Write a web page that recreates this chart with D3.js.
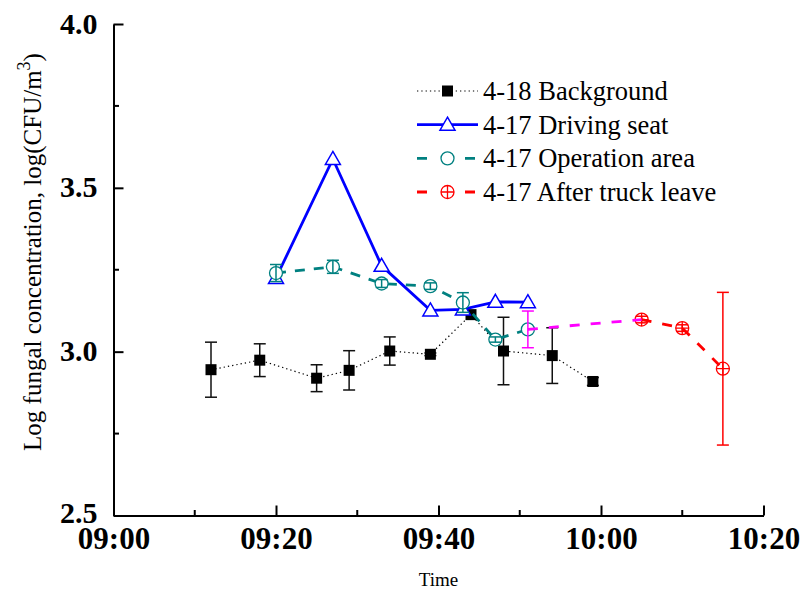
<!DOCTYPE html>
<html>
<head>
<meta charset="utf-8">
<script src="https://cdn.jsdelivr.net/npm/d3@7"></script>
<style>
  html, body { margin: 0; padding: 0; background: #fff; }
  svg { display: block; }
</style>
</head>
<body>
<svg id="chart" width="800" height="598"></svg>
<script>
// Sampling times and log10 fungal concentrations (CFU/m3) with standard deviations
const bgTimes   = ["09:12", "09:18", "09:25", "09:29", "09:34", "09:39", "09:44", "09:48", "09:54", "09:59"];
const bgValues  = [2.945, 2.974, 2.919, 2.943, 3.002, 2.992, 3.113, 3.002, 2.988, 2.909];
const bgErrors  = [0.084, 0.050, 0.041, 0.060, 0.043, 0.004, 0.0, 0.103, 0.085, 0.012];

const driveTimes  = ["09:20", "09:27", "09:33", "09:39", "09:43", "09:47", "09:51"];
const driveValues = [3.225, 3.588, 3.262, 3.126, 3.129, 3.152, 3.151];
const driveErrors = [0.006, 0.0, 0.0, 0.0, 0.0, 0.0, 0.0];

const opTimes  = ["09:20", "09:27", "09:33", "09:39", "09:43", "09:47", "09:51"];
const opValues = [3.240, 3.259, 3.208, 3.200, 3.150, 3.037, 3.068];
const opErrors = [0.026, 0.020, 0.012, 0.010, 0.030, 0.008, 0.056];

const afterTimes  = ["10:05", "10:10", "10:15"];
const afterValues = [3.098, 3.072, 2.948];
const afterErrors = [0.010, 0.010, 0.233];

const xTickLabels = ["09:00", "09:20", "09:40", "10:00", "10:20"];
const yTickLabels = ["2.5", "3.0", "3.5", "4.0"];

const legendLabels = ["4-18 Background", "4-17 Driving seat", "4-17 Operation area", "4-17 After truck leave"];

const parseT = d3.timeParse("%H:%M");
const fmtT = d3.timeFormat("%H:%M");

const svg = d3.select("#chart");
const margin = { left: 113.5, right: 763.5, top: 24, bottom: 515.5 };

const x = d3.scaleTime()
  .domain([parseT("09:00"), parseT("10:20")])
  .range([margin.left, margin.right]);
const y = d3.scaleLinear()
  .domain([2.5, 4.0])
  .range([margin.bottom, margin.top]);

const serif = "'Liberation Serif', 'Times New Roman', serif";

function rows(times, values, errors) {
  return times.map((t, i) => ({ t: parseT(t), v: values[i], e: errors[i] }));
}
const bg = rows(bgTimes, bgValues, bgErrors);
const drive = rows(driveTimes, driveValues, driveErrors);
const op = rows(opTimes, opValues, opErrors);
const after = rows(afterTimes, afterValues, afterErrors);
// dashed connector between the last operation-area sample and the first after-leave sample
const link = [op[op.length - 1], after[0]];

// ---------- axes ----------
const majorX = xTickLabels.map(parseT);
const minorX = ["09:10", "09:30", "09:50", "10:10"].map(parseT);
const axisG = svg.append("g");

const xAxis = d3.axisBottom(x).tickValues(majorX).tickFormat(fmtT).tickSizeInner(-10).tickSizeOuter(0).tickPadding(16);
const gx = axisG.append("g").attr("transform", `translate(0,${margin.bottom})`).call(xAxis);
gx.select(".domain").attr("stroke", "#000").attr("stroke-width", 2);
gx.selectAll(".tick line").attr("stroke", "#000").attr("stroke-width", 2);
gx.selectAll(".tick text")
  .attr("font-family", serif).attr("font-weight", "bold").attr("font-size", 31)
  .attr("fill", "#000").attr("dy", "0.58em");
gx.selectAll(".minor").data(minorX).enter().append("line")
  .attr("x1", d => x(d)).attr("x2", d => x(d)).attr("y1", 0).attr("y2", -5.5)
  .attr("stroke", "#000").attr("stroke-width", 2);

const yAxis = d3.axisLeft(y).tickValues(yTickLabels.map(Number)).tickFormat(d3.format(".1f"))
  .tickSizeInner(-10).tickSizeOuter(0).tickPadding(16);
const gy = axisG.append("g").attr("transform", `translate(${margin.left},0)`).call(yAxis);
gy.select(".domain").attr("stroke", "#000").attr("stroke-width", 2);
gy.selectAll(".tick line").attr("stroke", "#000").attr("stroke-width", 2);
gy.selectAll(".tick text")
  .attr("font-family", serif).attr("font-weight", "bold").attr("font-size", 30)
  .attr("fill", "#000").attr("dy", d => d === 2.5 ? "0.22em" : "0.3em");
gy.selectAll(".minor").data([2.75, 3.25, 3.75]).enter().append("line")
  .attr("x1", 0).attr("x2", 5.5).attr("y1", d => y(d)).attr("y2", d => y(d))
  .attr("stroke", "#000").attr("stroke-width", 2);

// axis titles
svg.append("text")
  .attr("x", (margin.left + margin.right) / 2).attr("y", 586)
  .attr("text-anchor", "middle").attr("font-family", serif).attr("font-size", 19)
  .text("Time");

const yTitle = svg.append("text")
  .attr("transform", "translate(41,252) rotate(-90)")
  .attr("text-anchor", "middle").attr("font-family", serif).attr("font-size", 25);
yTitle.append("tspan").text("Log fungal concentration, log(CFU/m");
yTitle.append("tspan").attr("font-size", 18).attr("dy", -11).text("3");
yTitle.append("tspan").attr("dy", 11).text(")");

// ---------- marks ----------
const plot = svg.append("g");

function errorBars(g, data, color, colorFn) {
  const cap = 6;
  const eb = g.append("g").selectAll("g").data(data.filter(d => d.e > 0)).enter().append("g")
    .attr("stroke", d => colorFn ? colorFn(d) : color).attr("stroke-width", 1.5);
  eb.append("line").attr("x1", d => x(d.t)).attr("x2", d => x(d.t))
    .attr("y1", d => y(d.v + d.e)).attr("y2", d => y(d.v - d.e));
  eb.append("line").attr("x1", d => x(d.t) - cap).attr("x2", d => x(d.t) + cap)
    .attr("y1", d => y(d.v + d.e)).attr("y2", d => y(d.v + d.e));
  eb.append("line").attr("x1", d => x(d.t) - cap).attr("x2", d => x(d.t) + cap)
    .attr("y1", d => y(d.v - d.e)).attr("y2", d => y(d.v - d.e));
}

const line = d3.line().x(d => x(d.t)).y(d => y(d.v));

// symbol drawers (centred at 0,0)
function square(sel) {
  sel.append("rect").attr("x", -5.5).attr("y", -5.5).attr("width", 11).attr("height", 11).attr("fill", "#000");
}
function triangle(sel, color) {
  sel.append("path").attr("d", "M0,-7.5 L7.5,5.5 L-7.5,5.5 Z")
    .attr("fill", "#fff").attr("stroke", color).attr("stroke-width", 1.5);
}
function circle(sel, color) {
  sel.append("circle").attr("r", 6.5).attr("fill", "#fff").attr("stroke", color).attr("stroke-width", 1.3);
}
function circlePlus(sel, color) {
  sel.append("circle").attr("r", 6.5).attr("fill", "#fff").attr("stroke", color).attr("stroke-width", 1.3);
  sel.append("path").attr("d", "M-6.5,0 H6.5 M0,-6.5 V6.5").attr("stroke", color).attr("stroke-width", 1.3);
}

function markers(g, data, drawFn, color) {
  g.append("g").selectAll("g").data(data).enter().append("g")
    .attr("transform", d => `translate(${x(d.t)},${y(d.v)})`)
    .each(function () { drawFn(d3.select(this), color); });
}

// background (4-18)
const gBg = plot.append("g");
gBg.append("path").datum(bg).attr("d", line).attr("fill", "none")
  .attr("stroke", "#000").attr("stroke-width", 1.2).attr("stroke-dasharray", "1.3,3");
errorBars(gBg, bg, "#111");
markers(gBg, bg, square, "#000");

// driving seat
const cBlue = "#0000ff";
const gDrive = plot.append("g");
gDrive.append("path").datum(drive).attr("d", line).attr("fill", "none")
  .attr("stroke", cBlue).attr("stroke-width", 2.8);
errorBars(gDrive, drive, cBlue);
markers(gDrive, drive, triangle, cBlue);

// operation area
const cTeal = "#008080";
const cMagenta = "#ff00ff";
const gOp = plot.append("g");
gOp.append("path").datum(op).attr("d", line).attr("fill", "none")
  .attr("stroke", cTeal).attr("stroke-width", 2.8).attr("stroke-dasharray", "10,9");
markers(gOp, op, circle, cTeal);
errorBars(gOp, op, cTeal, d => d === op[op.length - 1] ? cMagenta : cTeal);

// link and after truck leave
const cRed = "#ff0000";
const gAfter = plot.append("g");
markers(gAfter, after, circlePlus, cRed);
errorBars(gAfter, after, cRed);
gAfter.append("path").datum(after).attr("d", line).attr("fill", "none")
  .attr("stroke", cRed).attr("stroke-width", 2.8).attr("stroke-dasharray", "10,11");
gAfter.append("path").datum(link).attr("d", line).attr("fill", "none")
  .attr("stroke", cMagenta).attr("stroke-width", 2.8).attr("stroke-dasharray", "10,11");

// ---------- legend ----------
const legend = svg.append("g");
const legendStyles = [
  { color: "#000", width: 1.2, dash: "1.3,3", sym: square },
  { color: cBlue, width: 2.8, dash: null, sym: triangle },
  { color: cTeal, width: 2.8, dash: "10,14", sym: circle },
  { color: cRed, width: 2.8, dash: "10,14", sym: circlePlus }
];
const rowY = d3.scalePoint().domain(legendLabels).range([91, 192]);
legendLabels.forEach((lab, i) => {
  const st = legendStyles[i];
  const gy0 = rowY(lab);
  const row = legend.append("g").attr("transform", `translate(0,${gy0})`);
  const ln = row.append("line").attr("x1", 417).attr("x2", 478).attr("y1", 0).attr("y2", 0)
    .attr("stroke", st.color).attr("stroke-width", st.width);
  if (st.dash) ln.attr("stroke-dasharray", st.dash);
  const m = row.append("g").attr("transform", "translate(447.5,0)");
  st.sym(m, st.color);
  row.append("text").attr("x", 483).attr("y", 0).attr("dy", "0.34em")
    .attr("font-family", serif).attr("font-size", 26.5).attr("fill", "#000").text(lab);
});
</script>
</body>
</html>
